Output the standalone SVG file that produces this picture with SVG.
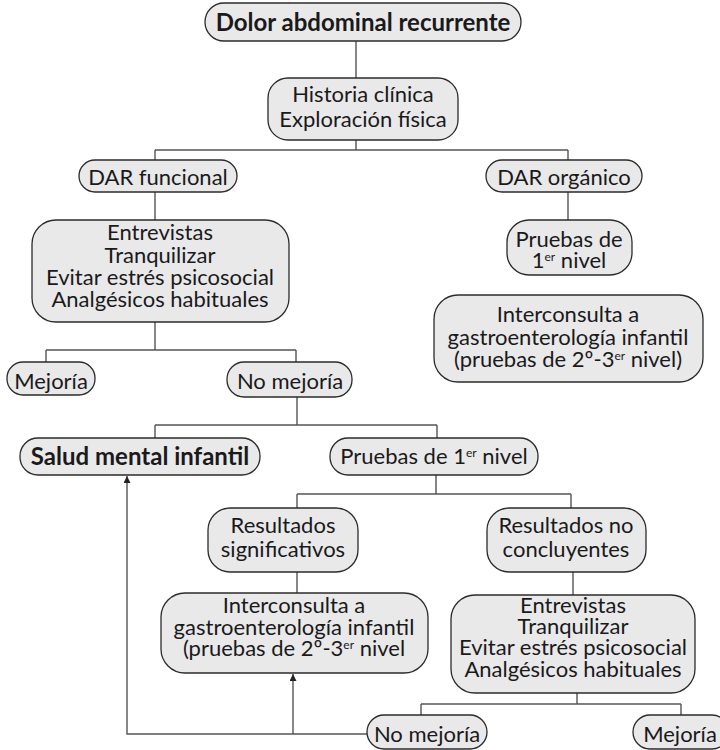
<svg xmlns="http://www.w3.org/2000/svg" width="720" height="750" viewBox="0 0 720 750">
  <style>
    .box { fill: #e9e9ea; stroke: #2b2b2b; stroke-width: 1.3; }
    .t { font-family: Lato, "Open Sans", "Liberation Sans", sans-serif; font-size: 22px; fill: #1a1a1a; text-anchor: middle; }
    .b { font-weight: bold; font-size: 24px; }
    .sup { font-size: 12px; }
    .ln { fill: none; stroke: #555; stroke-width: 1.4; }
  </style>
  <defs>
    <marker id="arrow" viewBox="0 0 10 10" refX="10" refY="5" markerWidth="7" markerHeight="7" markerUnits="userSpaceOnUse" orient="auto">
      <path d="M0,0 L10,5 L0,10 z" fill="#222"/>
    </marker>
  </defs>
  <rect width="720" height="750" fill="#fff"/>

  <g id="connectors">
    <path class="ln" d="M356,41 V78"/>
    <path class="ln" d="M356,140 V150 M155,150 H568 M155,150 V160 M568,150 V160"/>
    <path class="ln" d="M155,192 V220"/>
    <path class="ln" d="M568,192 V220"/>
    <path class="ln" d="M155,322 V350 M46,350 H296 M46,350 V362 M296,350 V362"/>
    <path class="ln" d="M297,397 V425 M155,425 H437 M155,425 V438 M437,425 V438"/>
    <path class="ln" d="M436,475 V494 M297,494 H571 M297,494 V508 M571,494 V508"/>
    <path class="ln" d="M297,572 V593"/>
    <path class="ln" d="M573,572 V595"/>
    <path class="ln" d="M577,693 V704 M421,704 H681 M421,704 V715 M681,704 V715"/>
    <path class="ln" d="M367,734 H127 V476" marker-end="url(#arrow)"/>
    <path class="ln" d="M293,734 V674" marker-end="url(#arrow)"/>
  </g>

  <g id="n-dolor">
    <rect class="box" x="205" y="3" width="316" height="38" rx="19"/>
    <text class="t b" x="363" y="31">Dolor abdominal recurrente</text>
  </g>

  <g id="n-historia">
    <rect class="box" x="268" y="78" width="190" height="62" rx="20"/>
    <text class="t" x="363" y="102">Historia clínica<tspan x="363" dy="25">Exploración física</tspan></text>
  </g>

  <g id="n-dar-funcional">
    <rect class="box" x="79" y="160" width="158" height="32" rx="16"/>
    <text class="t" x="158" y="185">DAR funcional</text>
  </g>

  <g id="n-manejo-1">
    <rect class="box" x="32" y="220" width="257" height="102" rx="24"/>
    <text class="t" x="160" y="240">Entrevistas<tspan x="160" dy="23">Tranquilizar</tspan><tspan x="160" dy="22">Evitar estrés psicosocial</tspan><tspan x="160" dy="22">Analgésicos habituales</tspan></text>
  </g>

  <g id="n-mejoria-1">
    <rect class="box" x="7" y="362" width="88" height="33" rx="16"/>
    <text class="t" x="51" y="389">Mejoría</text>
  </g>

  <g id="n-no-mejoria-1">
    <rect class="box" x="227" y="362" width="125" height="35" rx="17"/>
    <text class="t" x="290" y="389">No mejoría</text>
  </g>

  <g id="n-dar-organico">
    <rect class="box" x="486" y="160" width="156" height="32" rx="16"/>
    <text class="t" x="564" y="185">DAR orgánico</text>
  </g>

  <g id="n-pruebas-1">
    <rect class="box" x="507" y="220" width="125" height="55" rx="22"/>
    <text class="t" x="569" y="247">Pruebas de<tspan x="569" dy="21">1</tspan><tspan class="sup" dy="-7">er</tspan><tspan dy="7"> nivel</tspan></text>
  </g>

  <g id="n-interconsulta-1">
    <rect class="box" x="434" y="295" width="269" height="87" rx="24"/>
    <text class="t" x="568" y="322">Interconsulta a<tspan x="568" dy="23">gastroenterología infantil</tspan><tspan x="568" dy="22">(pruebas de 2º-3</tspan><tspan class="sup" dy="-7">er</tspan><tspan dy="7"> nivel)</tspan></text>
  </g>

  <g id="n-salud-mental">
    <rect class="box" x="20" y="438" width="240" height="37" rx="18"/>
    <text class="t b" x="140" y="465">Salud mental infantil</text>
  </g>

  <g id="n-pruebas-2">
    <rect class="box" x="330" y="438" width="208" height="37" rx="18"/>
    <text class="t" x="434" y="464">Pruebas de 1<tspan class="sup" dy="-7">er</tspan><tspan dy="7"> nivel</tspan></text>
  </g>

  <g id="n-res-significativos">
    <rect class="box" x="208" y="508" width="150" height="64" rx="22"/>
    <text class="t" x="283" y="533">Resultados<tspan x="283" dy="24">significativos</tspan></text>
  </g>

  <g id="n-res-no-concluyentes">
    <rect class="box" x="487" y="508" width="159" height="64" rx="22"/>
    <text class="t" x="566" y="533">Resultados no<tspan x="566" dy="24">concluyentes</tspan></text>
  </g>

  <g id="n-interconsulta-2">
    <rect class="box" x="161" y="593" width="267" height="80" rx="24"/>
    <text class="t" x="294" y="613">Interconsulta a<tspan x="294" dy="22">gastroenterología infantil</tspan><tspan x="294" dy="21">(pruebas de 2º-3</tspan><tspan class="sup" dy="-7">er</tspan><tspan dy="7"> nivel</tspan></text>
  </g>

  <g id="n-manejo-2">
    <rect class="box" x="451" y="595" width="244" height="98" rx="24"/>
    <text class="t" x="573" y="613">Entrevistas<tspan x="573" dy="21">Tranquilizar</tspan><tspan x="573" dy="21">Evitar estrés psicosocial</tspan><tspan x="573" dy="22">Analgésicos habituales</tspan></text>
  </g>

  <g id="n-no-mejoria-2">
    <rect class="box" x="367" y="715" width="120" height="34" rx="17"/>
    <text class="t" x="427" y="742">No mejoría</text>
  </g>

  <g id="n-mejoria-2">
    <rect class="box" x="633" y="715" width="96" height="34" rx="17"/>
    <text class="t" x="680" y="742">Mejoría</text>
  </g>
</svg>
